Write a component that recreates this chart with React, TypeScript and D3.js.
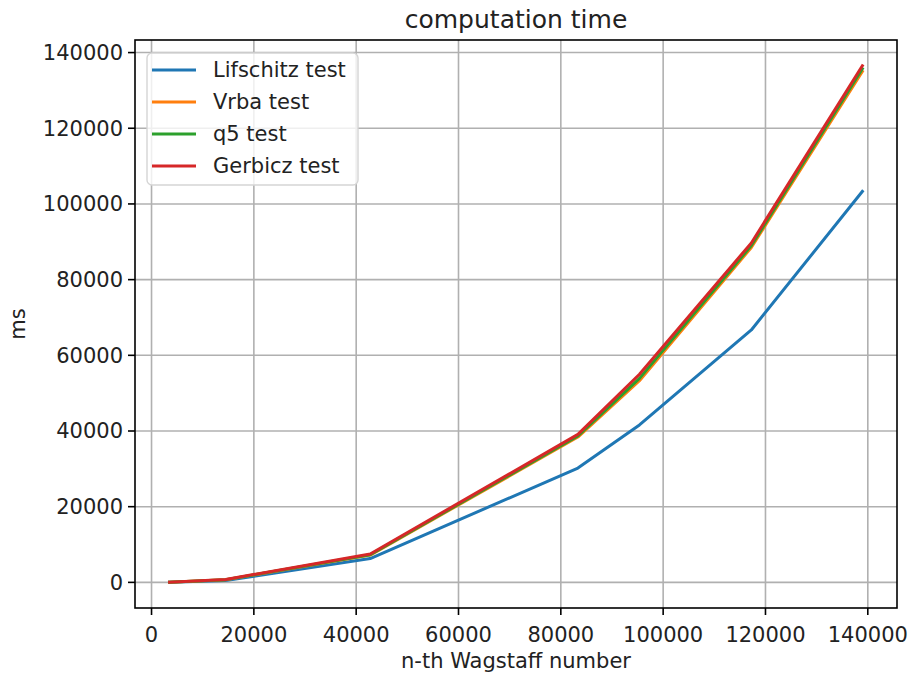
import React from "react";
import * as d3 from "d3";

const width = 909;
const height = 675;
const margin = { left: 135, right: 12, top: 40, bottom: 67 };

// n-th Wagstaff number (exponent)
const wagstaff = [3539, 14479, 42737, 83339, 95369, 117239, 138937];

const lifschitz = [50, 500, 6300, 30200, 41600, 66700, 103300];
const vrba = [60, 700, 7200, 38400, 53300, 88500, 135000];
const q5 = [60, 720, 7300, 38700, 53900, 89000, 135700];
const gerbicz = [60, 780, 7500, 39100, 55000, 89700, 136500];

const seriesNames = ["Lifschitz test", "Vrba test", "q5 test", "Gerbicz test"];
const seriesColors = ["#1f77b4", "#ff7f0e", "#2ca02c", "#d62728"];
const seriesValues = [lifschitz, vrba, q5, gerbicz];

const xTicks = [0, 20000, 40000, 60000, 80000, 100000, 120000, 140000];
const yTicks = [0, 20000, 40000, 60000, 80000, 100000, 120000, 140000];

const font = "DejaVu Sans, sans-serif";
const fs = 21;

// matplotlib-like 5% padding on each side
const pad = (lo: number, hi: number) => {
  const s = (hi - lo) * 0.05;
  return [lo - s, hi + s];
};

const App = () => {
  const x0 = margin.left;
  const x1 = width - margin.right;
  const y0 = height - margin.bottom;
  const y1 = margin.top;

  const allY = seriesValues.flat();
  const xScale = d3
    .scaleLinear()
    .domain(pad(d3.min(wagstaff)!, d3.max(wagstaff)!))
    .range([x0, x1]);
  const yScale = d3
    .scaleLinear()
    .domain(pad(d3.min(allY)!, d3.max(allY)!))
    .range([y0, y1]);

  const line = d3
    .line<number>()
    .x((_, i) => xScale(wagstaff[i]))
    .y((d) => yScale(d));

  return (
    <svg
      width={width}
      height={height}
      style={{ position: "absolute", left: 0, top: 0, background: "#fff" }}
      fontFamily={font}
    >
      {/* grid */}
      {xTicks.map((t) => (
        <line key={"gx" + t} x1={xScale(t)} x2={xScale(t)} y1={y1} y2={y0} stroke="#b0b0b0" strokeWidth={1.6} />
      ))}
      {yTicks.map((t) => (
        <line key={"gy" + t} x1={x0} x2={x1} y1={yScale(t)} y2={yScale(t)} stroke="#b0b0b0" strokeWidth={1.6} />
      ))}

      {/* lines */}
      <g>
        {seriesValues.map((vals, i) => (
          <path
            key={seriesNames[i]}
            d={line(vals)!}
            fill="none"
            stroke={seriesColors[i]}
            strokeWidth={3}
            strokeLinecap="square"
            strokeLinejoin="round"
          />
        ))}
      </g>

      {/* spines */}
      <rect x={x0} y={y1} width={x1 - x0} height={y0 - y1} fill="none" stroke="#000" strokeWidth={1.6} />

      {/* x ticks */}
      {xTicks.map((t) => (
        <g key={"tx" + t}>
          <line x1={xScale(t)} x2={xScale(t)} y1={y0} y2={y0 + 7} stroke="#000" strokeWidth={1.6} />
          <text x={xScale(t)} y={y0 + 34} textAnchor="middle" fontSize={fs} fill="#222">
            {t}
          </text>
        </g>
      ))}

      {/* y ticks */}
      {yTicks.map((t) => (
        <g key={"ty" + t}>
          <line x1={x0 - 7} x2={x0} y1={yScale(t)} y2={yScale(t)} stroke="#000" strokeWidth={1.6} />
          <text x={x0 - 12} y={yScale(t)} dy="0.35em" textAnchor="end" fontSize={fs} fill="#222">
            {t}
          </text>
        </g>
      ))}

      {/* labels */}
      <text x={(x0 + x1) / 2} y={28} textAnchor="middle" fontSize={25} fill="#222">
        computation time
      </text>
      <text x={(x0 + x1) / 2} y={668} textAnchor="middle" fontSize={fs} fill="#222">
        n-th Wagstaff number
      </text>
      <text
        transform={`translate(25,${(y0 + y1) / 2}) rotate(-90)`}
        textAnchor="middle"
        fontSize={fs}
        fill="#222"
      >
        ms
      </text>

      {/* legend */}
      <g transform="translate(147,53)">
        <rect width={211} height={132} rx={5} fill="#fff" fillOpacity={0.8} stroke="#d5d5d5" strokeWidth={1.4} />
        {seriesNames.map((name, i) => (
          <g key={"lg" + name} transform={`translate(0,${17 + i * 32})`}>
            <line x1={5} x2={49} y1={0} y2={0} stroke={seriesColors[i]} strokeWidth={3} />
            <text x={66} y={0} dy="0.35em" fontSize={fs} fill="#222">
              {name}
            </text>
          </g>
        ))}
      </g>
    </svg>
  );
};

export default App;
